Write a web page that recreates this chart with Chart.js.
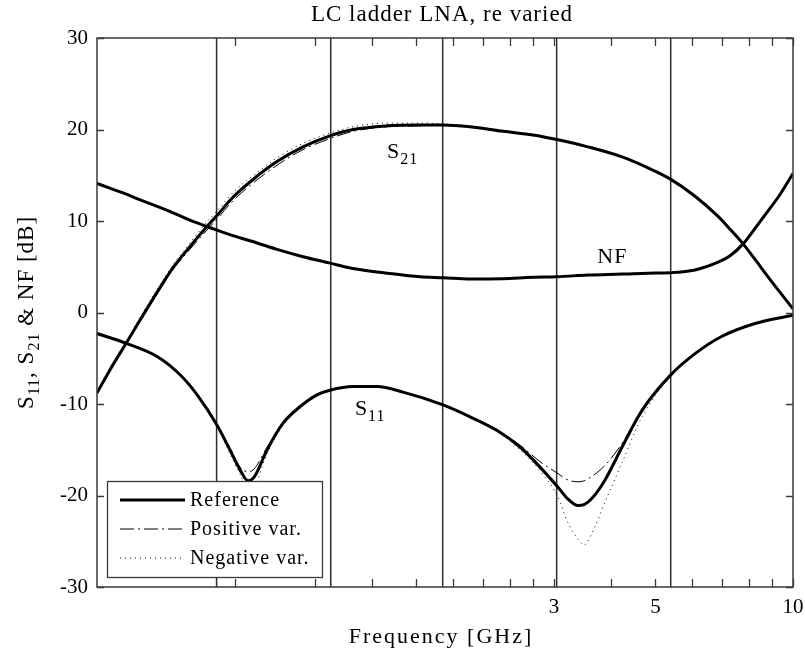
<!DOCTYPE html>
<html>
<head>
<meta charset="utf-8">
<title>LC ladder LNA, re varied</title>
<script src="https://cdn.jsdelivr.net/npm/chart.js@4.4.1/dist/chart.umd.min.js"></script>
<style>
  html, body { margin: 0; background: #fff; }
  #wrap { width: 805px; height: 659px; }
</style>
</head>
<body>
<div id="wrap"><canvas id="lnaChart" width="805" height="659"></canvas></div>
<script>
// === LC ladder LNA, re varied ===

const FONT = "'Liberation Serif', 'Times New Roman', serif";

// frequency grid for S21 and NF [GHz]
const freqMain = [0.300, 0.320, 0.349, 0.373, 0.406, 0.440, 0.479, 0.522, 0.549, 0.595,
  0.672, 0.743, 0.847, 0.970, 1.090, 1.293, 1.527, 1.715, 1.965, 2.321,
  2.698, 3.046, 3.560, 4.227, 4.818, 5.382, 6.105, 6.856, 7.283, 7.776,
  8.260, 8.818, 9.368, 10.0];

const s21Ref = [-8.8, -6.3, -3.2, -0.8, 2.2, 4.9, 7.2, 9.4, 10.6, 12.6,
  14.9, 16.5, 18.1, 19.3, 20.0, 20.4, 20.5, 20.5, 20.3, 19.8,
  19.4, 18.9, 18.1, 17.0, 15.8, 14.6, 12.7, 10.5, 9.1, 7.5,
  5.8, 3.9, 2.2, 0.4];
const s21Pos = [-8.8, -6.3, -3.3, -0.9, 2.0, 4.7, 6.9, 9.0, 10.2, 12.2,
  14.5, 16.1, 17.8, 19.0, 19.8, 20.3, 20.4, 20.5, 20.3, 19.8,
  19.4, 18.9, 18.1, 17.0, 15.8, 14.6, 12.7, 10.5, 9.1, 7.5,
  5.8, 3.9, 2.2, 0.4];
const s21Neg = [-8.7, -6.1, -3.0, -0.5, 2.5, 5.2, 7.6, 9.9, 11.1, 13.1,
  15.3, 16.9, 18.5, 19.6, 20.3, 20.7, 20.7, 20.6, 20.4, 19.9,
  19.4, 18.9, 18.1, 17.0, 15.8, 14.6, 12.7, 10.5, 9.1, 7.5,
  5.8, 3.9, 2.2, 0.4];

const nfRef = [14.1, 13.6, 12.9, 12.3, 11.6, 10.9, 10.1, 9.4, 9.0, 8.4,
  7.6, 6.9, 6.1, 5.4, 4.8, 4.3, 3.9, 3.8, 3.65, 3.7,
  3.85, 3.9, 4.1, 4.2, 4.3, 4.35, 4.65, 5.5, 6.2, 7.5,
  9.2, 11.1, 12.9, 15.2];
const nfPos = [14.1, 13.6, 12.9, 12.3, 11.6, 10.9, 10.1, 9.4, 9.0, 8.4,
  7.6, 6.9, 6.1, 5.4, 4.8, 4.3, 3.95, 3.85, 3.7, 3.7,
  3.85, 3.9, 4.1, 4.2, 4.3, 4.35, 4.65, 5.5, 6.2, 7.5,
  9.2, 11.1, 12.9, 15.2];
const nfNeg = [14.1, 13.6, 12.9, 12.3, 11.6, 10.9, 10.1, 9.4, 9.0, 8.4,
  7.6, 6.9, 6.1, 5.4, 4.8, 4.3, 3.85, 3.75, 3.6, 3.65,
  3.85, 3.9, 4.1, 4.2, 4.3, 4.35, 4.65, 5.5, 6.2, 7.5,
  9.2, 11.1, 12.9, 15.2];

// frequency grid for S11 [GHz]
const freqS11 = [0.300, 0.349, 0.406, 0.456, 0.497, 0.549, 0.586, 0.617, 0.642, 0.662,
  0.707, 0.766, 0.834, 0.909, 0.970, 1.090, 1.230, 1.402, 1.715, 1.965,
  2.252, 2.528, 2.796, 3.061, 3.219, 3.385, 3.490, 3.633, 3.879, 4.227,
  4.674, 5.382, 6.105, 6.996, 8.260, 10.0];

const s11Ref = [-2.3, -3.4, -4.8, -6.8, -9.0, -12.3, -15.0, -17.2, -18.4, -18.0,
  -15.0, -12.1, -10.3, -9.0, -8.5, -8.1, -8.1, -8.7, -10.1, -11.4,
  -12.9, -14.7, -16.9, -19.1, -20.4, -21.1, -21.0, -20.3, -18.3, -14.7,
  -10.7, -6.9, -4.5, -2.6, -1.2, -0.3];
const s11Pos = [-2.3, -3.4, -4.8, -6.8, -9.0, -12.2, -14.8, -16.9, -17.4, -17.1,
  -14.7, -12.0, -10.2, -8.9, -8.5, -8.1, -8.1, -8.7, -10.1, -11.4,
  -12.8, -14.5, -16.3, -17.6, -18.3, -18.5, -18.4, -17.9, -16.7, -14.3,
  -10.6, -6.9, -4.5, -2.6, -1.2, -0.3];
const s11Neg = [-2.3, -3.4, -4.8, -6.8, -9.1, -12.5, -15.4, -17.7, -19.3, -19.0,
  -15.4, -12.3, -10.4, -9.1, -8.5, -8.1, -8.1, -8.7, -10.1, -11.4,
  -13.0, -15.0, -17.3, -20.2, -23.0, -24.8, -25.4, -24.1, -20.7, -16.4,
  -11.4, -7.0, -4.5, -2.6, -1.2, -0.3];

// vertical marker lines [GHz]
const markerFreqs = [0.548, 0.974, 1.712, 3.04, 5.40];

// axis ticks
const xTickValues = [0.6, 0.9, 1.2, 1.5, 1.8, 2.1, 2.4, 2.7, 3, 4, 5, 6, 7, 8, 9, 10];
const xTickLabels = [3, 5, 10];
const yTickValues = [-30, -20, -10, 0, 10, 20, 30];

// curve labels: text parts, freq, dB
const curveLabels = [
  { parts: [{ t: "S" }, { t: "21", sub: true }], f: 1.293, db: 16.9 },
  { parts: [{ t: "NF" }], f: 3.73, db: 5.4 },
  { parts: [{ t: "S" }, { t: "11", sub: true }], f: 1.10, db: -11.2 }
];

const legendItems = [
  { text: "Reference", width: 3, dash: [] },
  { text: "Positive var.", width: 1, dash: [14, 4, 2, 4] },
  { text: "Negative var.", width: 1, dash: [1, 4] }
];

function toPoints(xs, ys) {
  return xs.map((f, i) => ({ x: f, y: ys[i] }));
}

function curve(xs, ys, kind) {
  const style = legendItems[kind];
  return {
    data: toPoints(xs, ys),
    borderColor: "#000",
    borderWidth: style.width,
    borderDash: style.dash,
    pointRadius: 0,
    cubicInterpolationMode: "monotone",
    fill: false,
    order: kind === 0 ? 1 : 2
  };
}

// draw text made of normal and subscript parts
function drawRich(ctx, parts, x, y, size, subSize, align) {
  let w = 0;
  parts.forEach((p) => {
    ctx.font = `${p.sub ? subSize : size}px ${FONT}`;
    w += ctx.measureText(p.t).width;
  });
  let cx = align === "center" ? x - w / 2 : x;
  parts.forEach((p) => {
    ctx.font = `${p.sub ? subSize : size}px ${FONT}`;
    ctx.fillText(p.t, cx, y + (p.sub ? Math.round(subSize * 0.4) : 0));
    cx += ctx.measureText(p.t).width;
  });
}

const overlayPlugin = {
  id: "overlay",
  afterDatasetsDraw(chart) {
    const { ctx, chartArea: a, scales } = chart;
    const xs = scales.x;
    const ys = scales.y;
    ctx.save();

    // frame
    ctx.strokeStyle = "#3a3a3a";
    ctx.lineWidth = 1.5;
    ctx.strokeRect(a.left, a.top, a.width, a.height);

    // inward tick marks on all four sides
    ctx.lineWidth = 1.3;
    ctx.beginPath();
    xTickValues.forEach((v) => {
      const px = Math.round(xs.getPixelForValue(v)) + 0.5;
      ctx.moveTo(px, a.bottom);
      ctx.lineTo(px, a.bottom - 8);
      ctx.moveTo(px, a.top);
      ctx.lineTo(px, a.top + 8);
    });
    yTickValues.forEach((v) => {
      const py = Math.round(ys.getPixelForValue(v)) + 0.5;
      ctx.moveTo(a.left, py);
      ctx.lineTo(a.left + 7, py);
      ctx.moveTo(a.right, py);
      ctx.lineTo(a.right - 7, py);
    });
    ctx.stroke();

    // curve labels
    ctx.fillStyle = "#000";
    ctx.textBaseline = "alphabetic";
    ctx.textAlign = "left";
    ctx.letterSpacing = "1px";
    curveLabels.forEach((l) => {
      drawRich(ctx, l.parts, xs.getPixelForValue(l.f), ys.getPixelForValue(l.db), 22, 16, "left");
    });

    // legend box
    const bx = a.left + 10;
    const by = a.bottom - 106;
    const bw = 215;
    const bh = 96;
    ctx.fillStyle = "#fff";
    ctx.fillRect(bx, by, bw, bh);
    ctx.strokeStyle = "#3a3a3a";
    ctx.lineWidth = 1.3;
    ctx.strokeRect(bx + 0.5, by + 0.5, bw, bh);

    legendItems.forEach((item, i) => {
      const ry = by + 19 + i * 29;
      ctx.strokeStyle = "#000";
      ctx.lineWidth = item.width;
      ctx.setLineDash(item.dash);
      ctx.beginPath();
      ctx.moveTo(bx + 13, ry);
      ctx.lineTo(bx + 78, ry);
      ctx.stroke();
      ctx.setLineDash([]);
      ctx.fillStyle = "#000";
      ctx.font = `20px ${FONT}`;
      ctx.textBaseline = "middle";
      ctx.fillText(item.text, bx + 83, ry + 1);
    });

    ctx.restore();
  },
  afterDraw(chart) {
    const { ctx, chartArea: a } = chart;
    ctx.save();
    ctx.fillStyle = "#000";
    ctx.letterSpacing = "1px";
    ctx.textBaseline = "alphabetic";
    ctx.textAlign = "left";

    // title
    drawRich(ctx, [{ t: "LC ladder LNA, re varied" }], (a.left + a.right) / 2 - 3, 21, 23, 16, "center");

    // x axis title
    ctx.letterSpacing = "2px";
    drawRich(ctx, [{ t: "Frequency [GHz]" }], (a.left + a.right) / 2 - 4, 643, 22, 16, "center");

    // y axis title, rotated
    ctx.letterSpacing = "1px";
    ctx.translate(33, (a.top + a.bottom) / 2);
    ctx.rotate(-Math.PI / 2);
    drawRich(ctx, [
      { t: "S" }, { t: "11", sub: true }, { t: ", S" }, { t: "21", sub: true }, { t: " & NF [dB]" }
    ], 0, 0, 23, 16, "center");

    ctx.restore();
  }
};

const datasets = [
  curve(freqMain, s21Ref, 0),
  curve(freqMain, nfRef, 0),
  curve(freqS11, s11Ref, 0),
  curve(freqMain, s21Pos, 1),
  curve(freqMain, nfPos, 1),
  curve(freqS11, s11Pos, 1),
  curve(freqMain, s21Neg, 2),
  curve(freqMain, nfNeg, 2),
  curve(freqS11, s11Neg, 2)
];

markerFreqs.forEach((f) => {
  datasets.push({
    data: [{ x: f, y: -30 }, { x: f, y: 30 }],
    borderColor: "#2e2e2e",
    borderWidth: 1.5,
    pointRadius: 0,
    order: 3
  });
});

const ctx = document.getElementById("lnaChart").getContext("2d");
new Chart(ctx, {
  type: "line",
  data: { datasets },
  options: {
    responsive: false,
    animation: false,
    devicePixelRatio: 1,
    layout: { padding: { top: 38, right: 12, left: 0, bottom: 0 } },
    plugins: {
      legend: { display: false },
      tooltip: { enabled: false },
      title: { display: false }
    },
    scales: {
      x: {
        type: "logarithmic",
        min: 0.3,
        max: 10,
        afterBuildTicks: (s) => {
          s.ticks = xTickValues.map((v) => ({ value: v }));
        },
        afterFit: (s) => {
          s.height = 72;
          s.paddingLeft = 0;
          s.paddingRight = 0;
        },
        ticks: {
          autoSkip: false,
          maxRotation: 0,
          minRotation: 0,
          padding: 8,
          color: "#000",
          font: { family: FONT, size: 21 },
          callback: (v) => (xTickLabels.includes(v) ? String(v) : "")
        },
        grid: { display: false, drawTicks: false },
        border: { display: false }
      },
      y: {
        min: -30,
        max: 30,
        afterBuildTicks: (s) => {
          s.ticks = yTickValues.map((v) => ({ value: v }));
        },
        afterFit: (s) => {
          s.width = 97;
          s.paddingTop = 0;
          s.paddingBottom = 0;
        },
        ticks: {
          padding: 9,
          color: "#000",
          font: { family: FONT, size: 21 }
        },
        grid: { display: false, drawTicks: false },
        border: { display: false }
      }
    }
  },
  plugins: [overlayPlugin]
});
</script>
</body>
</html>
